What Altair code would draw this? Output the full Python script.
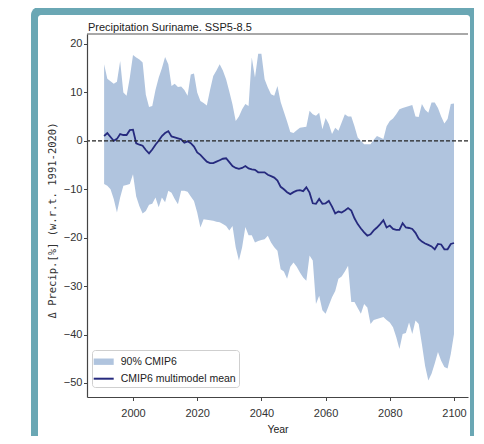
import altair as alt
import pandas as pd

# ---------------- data ----------------
years = list(range(1991, 2101))

upper = [
    15.8, 12.8, 12.3, 11.8, 12.2, 16.5, 10.0, 9.3, 13.0, 17.7,
    17.2, 16.8, 16.2, 9.5, 7.0, 7.2, 10.5, 13.0, 15.0, 17.3,
    15.8, 11.3, 11.8, 11.1, 11.2, 10.5, 9.3, 13.7, 13.9, 10.0,
    8.2, 7.8, 7.3, 10.5, 13.4, 14.5, 15.8, 14.5, 12.7, 10.2,
    7.5, 4.1, 5.0, 6.5, 7.6, 7.2, 17.2, 13.1, 18.0, 18.0,
    12.7, 11.0, 9.6, 9.3, 11.3, 8.0, 6.0, 4.0, 1.8, 1.6,
    2.2, 2.7, 2.8, 2.9, 6.2, 5.5, 5.2, 5.8, 2.4, 4.7,
    3.5, 1.4, 2.7, 2.1, 3.8, 5.5, 5.0, 5.0, 3.0, 0.7,
    0.0, -0.7, -0.7, -0.7, 0.2, 1.0, 0.7, 0.4, 3.0, 4.1,
    4.6, 5.5, 6.5, 6.8, 7.0, 7.2, 7.4, 5.0, 4.9, 7.6,
    6.4, 5.8, 7.9, 7.9, 6.8, 5.0, 3.6, 4.5, 7.6, 7.7,
]

lower = [
    -8.9, -9.3, -10.0, -12.0, -14.8, -11.7, -9.3, -9.1, -8.9, -6.9,
    -11.5, -13.5, -15.0, -14.5, -13.2, -13.0, -11.7, -13.7, -11.7, -12.7,
    -10.3, -10.7, -12.0, -13.1, -10.3, -10.3, -10.5, -11.5, -12.4, -14.8,
    -17.9, -16.2, -16.3, -16.4, -16.5, -16.7, -16.8, -17.2, -17.6, -18.5,
    -17.6, -22.0, -24.7, -22.0, -17.8, -19.5, -19.5, -21.0, -20.7, -20.5,
    -20.3, -19.6, -21.0, -22.0, -22.7, -26.5, -27.0, -28.5, -26.0, -25.1,
    -26.0, -27.2, -28.2, -28.9, -23.7, -24.7, -33.7, -32.0, -35.0, -35.7,
    -34.0, -32.3, -31.0, -28.5, -28.0, -27.0, -25.8, -33.3, -33.3, -34.5,
    -35.7, -33.7, -34.4, -37.8, -37.0, -36.8, -36.6, -36.4, -37.0, -37.5,
    -38.5, -40.5, -43.0, -39.9, -39.7, -37.5, -39.9, -37.1, -37.8, -42.0,
    -46.5, -49.5, -48.1, -46.0, -43.6, -45.4, -46.7, -47.0, -44.0, -39.9,
]

mean_vals = [
    1.0, 1.6, 0.8, 0.0, 0.4, 1.4, 1.2, 1.2, 2.2, 2.3,
    -0.5, -0.8, -1.0, -1.9, -2.6, -1.8, -0.8, 0.0, 1.0, 1.6,
    2.0, 0.9, 0.7, 0.5, 0.3, -0.4, -0.1, -0.5, -1.2, -2.4,
    -2.9, -3.6, -4.3, -4.6, -4.6, -4.3, -4.0, -3.7, -3.6, -4.4,
    -5.2, -5.6, -5.8, -5.6, -5.2, -5.7, -5.9, -6.0, -6.5, -6.5,
    -6.5, -7.0, -7.3, -7.6, -8.2, -9.5, -10.0, -10.6, -11.0, -10.6,
    -10.3, -10.2, -10.4, -9.6, -10.7, -12.9, -13.0, -12.0, -13.0, -12.9,
    -12.4, -13.6, -15.0, -14.6, -14.8, -14.4, -13.9, -14.4, -16.0, -17.2,
    -18.1, -18.9, -19.6, -19.3, -18.5, -17.9, -17.2, -16.4, -17.9, -17.5,
    -18.2, -18.4, -18.4, -17.0, -17.9, -18.0, -18.2, -19.0, -20.2, -20.8,
    -21.2, -21.5, -21.8, -22.4, -21.3, -21.4, -22.4, -22.4, -21.3, -21.1,
]

x_ticks = [2000, 2020, 2040, 2060, 2080, 2100]
y_ticks = [-50, -40, -30, -20, -10, 0, 10, 20]
legend_labels = ["90% CMIP6", "CMIP6 multimodel mean"]
title_text = "Precipitation Suriname. SSP5-8.5"
x_title = "Year"
y_title = "\u0394 Precip.[%] (w.r.t. 1991-2020)"

# ---------------- styling ----------------
W, H = 381, 363
X_DOMAIN = [1985.67, 2104.36]
Y_DOMAIN = [-52.9, 22.06]
SANS = "Liberation Sans"
BAND = "#b0c4de"
LINE = "#262a7e"
TEAL = "#6aa7b4"

df = pd.DataFrame({
    "Year": years, "upper": upper, "lower": lower, "mean": mean_vals,
    "series": legend_labels[0],
})
one = pd.DataFrame({"k": [0]})

xs = alt.Scale(domain=X_DOMAIN, nice=False, zero=False)
ys = alt.Scale(domain=Y_DOMAIN, nice=False, zero=False)

x_axis = alt.Axis(
    values=x_ticks, format="d", title=x_title, grid=False, zindex=1,
    titleFont=SANS, titleFontSize=10.5, titleFontWeight="normal", titleColor="#222",
    titleY=35.5, titleBaseline="alphabetic",
    labelFont=SANS, labelFontSize=11, labelColor="#333",
    labelBaseline="alphabetic", labelPadding=15.6, labelFlush=False,
    tickSize=3.5, tickColor="#444", domainColor="#444", domainWidth=1.2,
)
y_axis = alt.Axis(
    values=y_ticks, format="d", title=y_title, grid=False, zindex=1,
    titleFont="DejaVu Sans Mono", titleFontSize=10.5, titleFontWeight="normal",
    titleColor="#333", titleAngle=270, titleX=-35, titleY=186,
    titleAlign="center", titleBaseline="middle",
    labelFont=SANS, labelFontSize=11, labelColor="#333", labelPadding=1.5,
    tickSize=3.5, tickColor="#444", domainColor="#444", domainWidth=1.2,
)

band_is = f"datum.value === '{legend_labels[0]}'"
legend = alt.Legend(
    title=None, orient="none", legendX=5, legendY=316, direction="vertical",
    labelFont=SANS, labelFontSize=10.5, labelColor="#222", labelOffset=8,
    symbolSize=256, padding=2.7, rowPadding=0,
    fillColor="white", strokeColor="#cfcfcf", cornerRadius=3,
    symbolType=alt.ExprRef(expr=f"{band_is} ? 'M-1.25,-0.4H1.25V0.4H-1.25Z' : 'M-1.25,0H1.25'"),
    symbolStrokeColor=alt.ExprRef(expr=f"{band_is} ? 'transparent' : '{LINE}'"),
    symbolStrokeWidth=2, symbolOpacity=1,
)

frame = alt.Chart(one).mark_rect(color=TEAL, cornerRadius=8).encode(
    x=alt.value(-56), x2=alt.value(395), y=alt.value(-27), y2=alt.value(430))
inner = alt.Chart(one).mark_rect(color="white", cornerRadius=3).encode(
    x=alt.value(-49), x2=alt.value(383), y=alt.value(-19), y2=alt.value(410))

area = alt.Chart(df).mark_area(opacity=1).encode(
    x=alt.X("Year:Q", scale=xs, axis=x_axis),
    y=alt.Y("lower:Q", scale=ys, axis=y_axis),
    y2="upper:Q",
    color=alt.Color("series:N", scale=alt.Scale(domain=legend_labels, range=[BAND, LINE]),
                    legend=legend),
)
line = alt.Chart(df).mark_line(color=LINE, strokeWidth=1.8).encode(
    x=alt.X("Year:Q", scale=xs, axis=x_axis),
    y=alt.Y("mean:Q", scale=ys, axis=y_axis),
)
zero = alt.Chart(one).mark_rule(color="#222", strokeDash=[4, 2], strokeWidth=1.2).encode(
    y=alt.datum(0))
top = alt.Chart(one).mark_rule(color="#a8a8a8", strokeWidth=1.8).encode(
    y=alt.datum(Y_DOMAIN[1]))

chart = alt.layer(frame, inner, area, line, zero, top).properties(
    width=W, height=H,
    padding={"left": 79, "top": 26, "right": 6, "bottom": 39},
    autosize=alt.AutoSizeParams(type="none"),
    background="white",
    title=alt.TitleParams(text=title_text, anchor="start", frame="group", font=SANS,
                          fontSize=11, fontWeight="normal", color="#222",
                          baseline="alphabetic", offset=4.7, dx=1, dy=40),
).configure_view(strokeWidth=0)

chart.save("out.html", embed_options={"renderer": "svg", "actions": False})
